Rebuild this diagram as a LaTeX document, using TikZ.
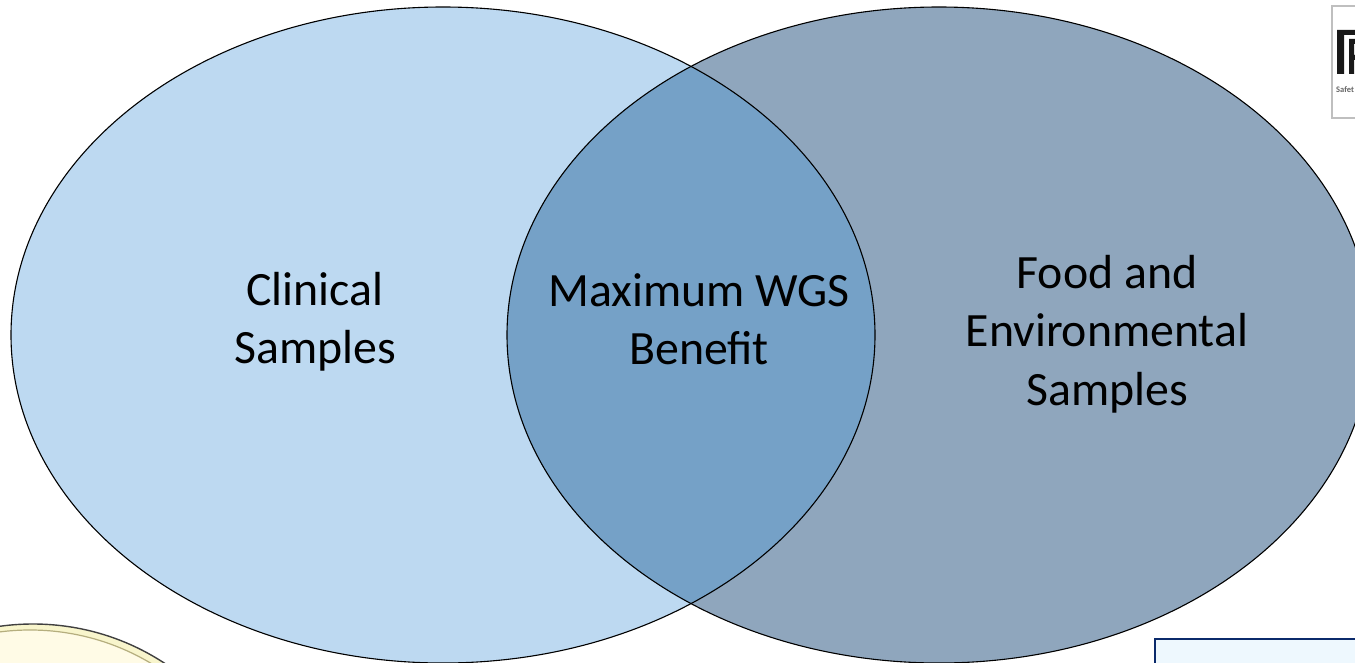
\documentclass[tikz,border=0pt]{standalone}
\usepackage{fontspec}
\setmainfont{Carlito}
\definecolor{leftfill}{HTML}{BDD9F1}
\definecolor{rightfill}{HTML}{8FA6BD}
\definecolor{midfill}{HTML}{75A1C7}
\definecolor{platefill}{HTML}{FFFBE6}
\definecolor{platering}{HTML}{F8F5CC}
\definecolor{platerim}{HTML}{B5AE7E}
\definecolor{boxfill}{HTML}{EEF8FE}
\definecolor{boxline}{HTML}{0B2A6B}
\tikzset{
  vennlabel/.style={align=center,inner sep=0pt,font=\fontsize{48}{58.5}\selectfont},
  vennedge/.style={draw=black,line width=1.1bp}
}
\begin{document}
\begin{tikzpicture}[x=1bp,y=-1bp]
\useasboundingbox (0,0) rectangle (1355,663);
\clip (0,0) rectangle (1355,663);
% logo
\draw[draw=black!25,line width=1.2bp,fill=white] (1332,6) rectangle (1400,118);
\fill[black!90] (1337,30) rectangle (1355,35) (1337,30) rectangle (1344,74)
  (1349,39) rectangle (1355,44) (1349,39) rectangle (1354,74) (1349,55) rectangle (1355,60);
\node[anchor=west,inner sep=0pt,text=black!60,font=\fontsize{8.5}{9}\selectfont\bfseries] (logotext) at (1336,90) {Safet};
% plate
\draw[draw=black!75,line width=1.4bp,fill=platering] (33,864) circle (240);
\draw[draw=platerim,line width=1.2bp,fill=platefill] (30,866) circle (236);
% box
\draw[draw=boxline,line width=1.5bp,fill=boxfill] (1155,639) rectangle (1400,720);
% venn
\fill[leftfill] (443,335) ellipse (432 and 328);
\fill[rightfill] (939,335) ellipse (432 and 328);
\begin{scope}
\clip (443,335) ellipse (432 and 328);
\fill[midfill] (939,335) ellipse (432 and 328);
\end{scope}
\draw[vennedge] (443,335) ellipse (432 and 328);
\draw[vennedge] (939,335) ellipse (432 and 328);
\node[vennlabel] (clinical) at (315,322) {Clinical\\Samples};
\node[vennlabel] (maximum) at (699,319) {Maximum WGS\\Benefit};
\node[vennlabel] (food) at (1107,334) {Food and\\Environmental\\Samples};
\end{tikzpicture}
\end{document}
